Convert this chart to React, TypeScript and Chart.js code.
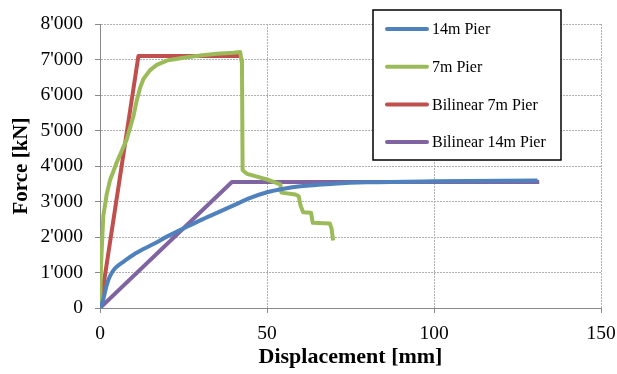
import React, { useEffect, useRef } from "react";
import { Chart, registerables } from "chart.js";

Chart.register(...registerables);

const seriesLabels = ["14m Pier", "7m Pier", "Bilinear 7m Pier", "Bilinear 14m Pier"];
const seriesColors = ["#4F81BD", "#9BBB59", "#C0504D", "#8064A2"];

const pier14X = [0, 1, 1.5, 2, 2.5, 3, 4, 5, 7, 10, 13, 16, 20, 25, 30, 35, 40, 45, 50, 55, 60, 70, 80, 100, 131];
const pier14Y = [0, 250, 450, 640, 790, 900, 1060, 1160, 1300, 1500, 1660, 1800, 2010, 2240, 2470, 2680, 2890, 3100, 3260, 3360, 3430, 3500, 3540, 3570, 3590];

const pier7X = [0, 0.3, 0.7, 1, 2, 3, 5, 8, 10, 11, 12, 13, 15, 17, 20, 25, 30, 35, 40, 42, 42.3, 42.5, 42.7, 44, 47, 50, 53, 54, 54.3, 58.5, 59.5, 60, 60.8, 63.2, 63.7, 68.8, 69.3, 69.8];
const pier7Y = [0, 1200, 2000, 2600, 3200, 3600, 4100, 4750, 5400, 5850, 6200, 6450, 6700, 6850, 6970, 7050, 7110, 7160, 7190, 7210, 7000, 6900, 3880, 3780, 3700, 3620, 3520, 3480, 3250, 3200, 3150, 2900, 2700, 2680, 2400, 2380, 2250, 1900];

const bil7X = [0, 11.5, 42];
const bil7Y = [0, 7100, 7100];

const bil14X = [0, 39.5, 131.5];
const bil14Y = [0, 3550, 3550];

const xTicks = [0, 50, 100, 150];
const yTicks = [0, 1000, 2000, 3000, 4000, 5000, 6000, 7000, 8000];

const toPts = (xs: number[], ys: number[]) => xs.map((x, i) => ({ x, y: ys[i] }));
const fmt = (v: number) => String(v).replace(/\B(?=(\d{3})+(?!\d))/g, "'");

const legendPlugin = {
  id: "boxLegend",
  afterDraw(chart: any) {
    const ctx = chart.ctx;
    const left = 373, top = 10, w = 188, h = 150;
    ctx.save();
    ctx.fillStyle = "#ffffff";
    ctx.fillRect(left, top, w, h);
    ctx.strokeStyle = "#000000";
    ctx.lineWidth = 1.5;
    ctx.strokeRect(left, top, w, h);
    ctx.font = "16px 'Liberation Serif'";
    ctx.textBaseline = "middle";
    chart.data.datasets.forEach((ds: any, i: number) => {
      const y = 29 + i * 37.7;
      ctx.strokeStyle = ds.borderColor;
      ctx.lineWidth = 4;
      ctx.lineCap = "round";
      ctx.beginPath();
      ctx.moveTo(387, y);
      ctx.lineTo(427, y);
      ctx.stroke();
      ctx.fillStyle = "#000000";
      ctx.fillText(ds.label, 432, y + 1);
    });
    ctx.restore();
  },
};

export default function App() {
  const ref = useRef<HTMLCanvasElement>(null);
  useEffect(() => {
    if (!ref.current) return;
    const seriesX = [pier14X, pier7X, bil7X, bil14X];
    const seriesY = [pier14Y, pier7Y, bil7Y, bil14Y];
    const chart = new Chart(ref.current, {
      type: "line",
      data: {
        datasets: seriesLabels.map((label, i) => ({
          label,
          data: toPts(seriesX[i], seriesY[i]),
          borderColor: seriesColors[i],
          backgroundColor: seriesColors[i],
          borderWidth: 4,
          pointRadius: 0,
          fill: false,
          cubicInterpolationMode: i === 0 ? "monotone" : "default",
          tension: 0,
          borderJoinStyle: "round",
        })),
      },
      options: {
        responsive: false,
        animation: false,
        layout: { padding: { top: 24, right: 16, left: 0, bottom: 0 } },
        plugins: { legend: { display: false }, tooltip: { enabled: false } },
        scales: {
          x: {
            type: "linear",
            min: 0,
            max: 150,
            afterBuildTicks: (s: any) => { s.ticks = xTicks.map((v) => ({ value: v })); },
            afterFit: (s: any) => { s.height = 66; s.paddingRight = 0; s.paddingLeft = 0; },
            ticks: {
              color: "#000",
              font: { family: "'Liberation Serif'", size: 19.5 },
              padding: 9,
              maxRotation: 0,
            },
            grid: { color: "#b0b0b0", tickColor: "#888", tickLength: 5, tickBorderDash: [] },
            border: { color: "#888", width: 1, dash: [2, 1] },
            title: {
              display: true,
              text: "Displacement [mm]",
              color: "#000",
              font: { family: "'Liberation Serif'", size: 22, weight: "bold" },
              padding: { top: 0, bottom: 3 },
            },
          },
          y: {
            type: "linear",
            min: 0,
            max: 8000,
            afterBuildTicks: (s: any) => { s.ticks = yTicks.map((v) => ({ value: v })); },
            afterFit: (s: any) => { s.width = 100; s.paddingTop = 0; s.paddingBottom = 0; },
            ticks: {
              color: "#000",
              font: { family: "'Liberation Serif'", size: 19.5 },
              padding: 12,
              callback: (v: any) => fmt(Number(v)),
            },
            grid: { color: "#b0b0b0", tickColor: "#888", tickLength: 5, tickBorderDash: [] },
            border: { color: "#888", width: 1, dash: [2, 1] },
            title: {
              display: true,
              text: "Force [kN]",
              color: "#000",
              font: { family: "'Liberation Serif'", size: 21, weight: "bold" },
              padding: { top: 9, bottom: 0 },
            },
          },
        },
      },
      plugins: [legendPlugin],
    } as any);
    return () => chart.destroy();
  }, []);
  return (
    <div style={{ position: "absolute", left: 0, top: 0, background: "#fff" }}>
      <canvas ref={ref} width={617} height={374} style={{ display: "block", width: 617, height: 374 }} />
    </div>
  );
}
